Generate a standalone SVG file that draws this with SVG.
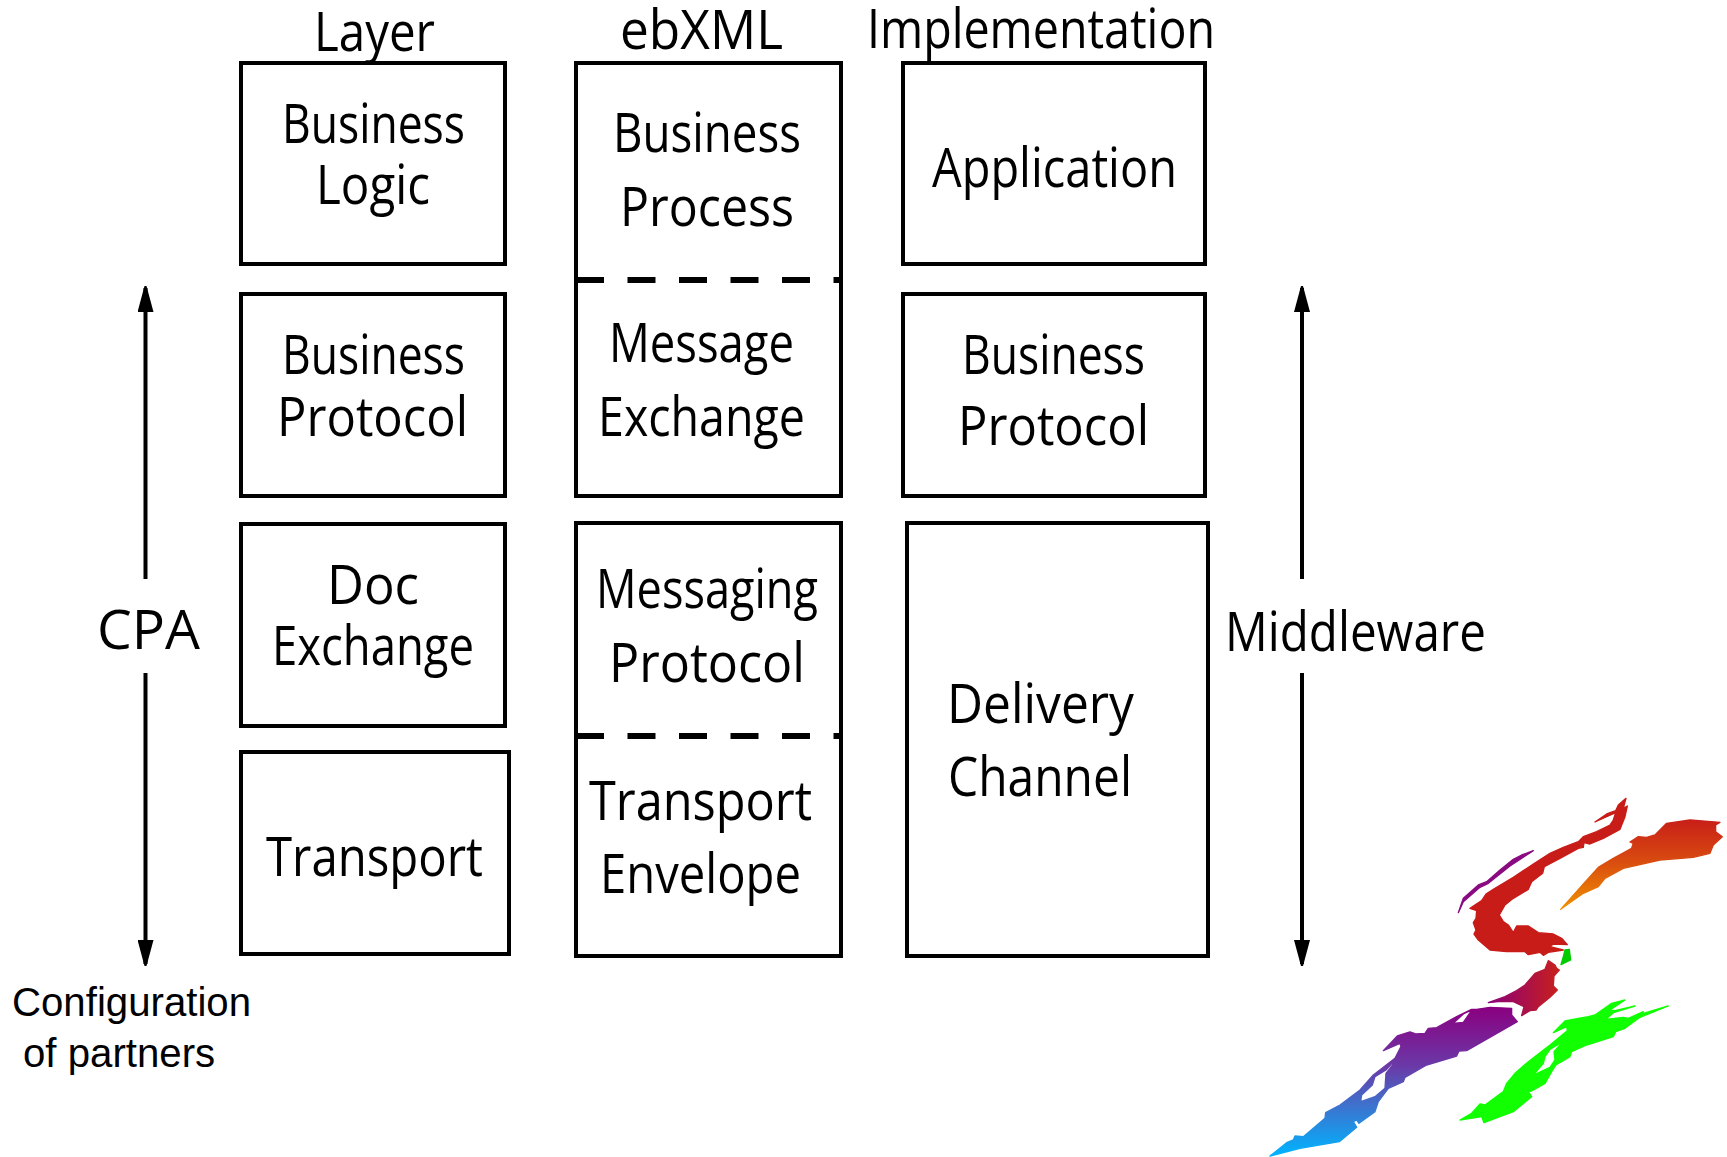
<svg xmlns="http://www.w3.org/2000/svg" width="1727" height="1157" viewBox="0 0 1727 1157">
<style>
.b{fill:#fff;stroke:#000;stroke-width:4}
.t{font-family:"Open Sans","Liberation Sans",sans-serif;font-size:54px;fill:#000}
.s{font-family:"Liberation Sans",Arial,sans-serif;font-size:40.200px;fill:#000}
.d{stroke:#000;stroke-width:6;stroke-dasharray:28 23.5;fill:none}
.a{stroke:#000;stroke-width:4;fill:none}
</style>
<defs>
<marker id="ah" markerUnits="userSpaceOnUse" markerWidth="28" markerHeight="16" refX="24" refY="8" orient="auto"><path d="M0,0L26,7L26,9L0,16Z" fill="#000"/></marker>
<linearGradient id="gO" x1="0" y1="0" x2="0" y2="1"><stop offset="0" stop-color="#c81f18"/><stop offset=".45" stop-color="#d84a10"/><stop offset="1" stop-color="#f09000"/></linearGradient>
<linearGradient id="gP" x1="0" y1="0" x2="0" y2="1"><stop offset="0" stop-color="#8a0080"/><stop offset=".4" stop-color="#6a3aa8"/><stop offset=".65" stop-color="#3f70cc"/><stop offset="1" stop-color="#00b4ff"/></linearGradient>
<linearGradient id="gM" x1="0" y1="0" x2="1" y2="0"><stop offset="0" stop-color="#8a0078"/><stop offset="1" stop-color="#c8201c"/></linearGradient>
</defs>
<g id="headers">
<text class="t" x="314" y="51" textLength="121" lengthAdjust="spacingAndGlyphs">Layer</text>
<text class="t" x="620" y="49" textLength="163" lengthAdjust="spacingAndGlyphs">ebXML</text>
<text class="t" x="867" y="48" textLength="348" lengthAdjust="spacingAndGlyphs">Implementation</text>
</g>
<g id="business-logic"><rect class="b" x="241" y="63" width="264" height="201"/>
<text class="t" x="282" y="143" textLength="183" lengthAdjust="spacingAndGlyphs">Business</text>
<text class="t" x="316" y="204" textLength="114" lengthAdjust="spacingAndGlyphs">Logic</text></g>
<g id="business-protocol"><rect class="b" x="241" y="294" width="264" height="202"/>
<text class="t" x="282" y="374" textLength="183" lengthAdjust="spacingAndGlyphs">Business</text>
<text class="t" x="277" y="436" textLength="191" lengthAdjust="spacingAndGlyphs">Protocol</text></g>
<g id="doc-exchange"><rect class="b" x="241" y="524" width="264" height="202"/>
<text class="t" x="327" y="604" textLength="92" lengthAdjust="spacingAndGlyphs">Doc</text>
<text class="t" x="272" y="665" textLength="202" lengthAdjust="spacingAndGlyphs">Exchange</text></g>
<g id="transport"><rect class="b" x="241" y="752" width="268" height="202"/>
<text class="t" x="266" y="876" textLength="217" lengthAdjust="spacingAndGlyphs">Transport</text></g>
<g id="ebxml-top"><rect class="b" x="576" y="63" width="265" height="433"/>
<path class="d" d="M576,280H841"/>
<text class="t" x="613" y="152" textLength="188" lengthAdjust="spacingAndGlyphs">Business</text>
<text class="t" x="620" y="226" textLength="174" lengthAdjust="spacingAndGlyphs">Process</text>
<text class="t" x="609" y="362" textLength="185" lengthAdjust="spacingAndGlyphs">Message</text>
<text class="t" x="598" y="436" textLength="207" lengthAdjust="spacingAndGlyphs">Exchange</text></g>
<g id="ebxml-bottom"><rect class="b" x="576" y="523" width="265" height="433"/>
<path class="d" d="M576,736H841"/>
<text class="t" x="596" y="608" textLength="222" lengthAdjust="spacingAndGlyphs">Messaging</text>
<text class="t" x="609" y="682" textLength="196" lengthAdjust="spacingAndGlyphs">Protocol</text>
<text class="t" x="589" y="820" textLength="223" lengthAdjust="spacingAndGlyphs">Transport</text>
<text class="t" x="600" y="893" textLength="201" lengthAdjust="spacingAndGlyphs">Envelope</text></g>
<g id="application"><rect class="b" x="903" y="63" width="302" height="201"/>
<text class="t" x="932" y="187" textLength="245" lengthAdjust="spacingAndGlyphs">Application</text></g>
<g id="impl-business-protocol"><rect class="b" x="903" y="294" width="302" height="202"/>
<text class="t" x="962" y="374" textLength="183" lengthAdjust="spacingAndGlyphs">Business</text>
<text class="t" x="958" y="445" textLength="191" lengthAdjust="spacingAndGlyphs">Protocol</text></g>
<g id="delivery-channel"><rect class="b" x="907" y="523" width="301" height="433"/>
<text class="t" x="947" y="723" textLength="187" lengthAdjust="spacingAndGlyphs">Delivery</text>
<text class="t" x="948" y="796" textLength="184" lengthAdjust="spacingAndGlyphs">Channel</text></g>
<g id="cpa-label"><text class="t" x="97" y="649" textLength="103" lengthAdjust="spacingAndGlyphs">CPA</text></g>
<g id="middleware-label"><text class="t" x="1225" y="651" textLength="261" lengthAdjust="spacingAndGlyphs">Middleware</text></g>
<g id="config-label"><text class="s" x="12" y="1016">Configuration</text><text class="s" x="23" y="1067">of partners</text></g>
<g id="connectors">
<path class="a" d="M145.500,579V288" marker-end="url(#ah)"/>
<path class="a" d="M145.500,673V964" marker-end="url(#ah)"/>
<path class="a" d="M1302,579V288" marker-end="url(#ah)"/>
<path class="a" d="M1302,673V964" marker-end="url(#ah)"/>
</g>
<g id="logo" stroke-width="4" stroke-linejoin="round">
<g transform="translate(1450 790) scale(.3333)">
<path fill="#c81c18" stroke="#c81c18" d="M528,25L505,45L497,62L470,72L435,96L470,80L497,68L490,90L480,105L440,125L400,140L385,155L340,172L300,190L250,222L190,262L130,298L108,312L95,332L60,355L80,362L78,385L70,398L78,420L72,432L85,450L120,480L170,485L225,485L235,494L270,487L280,496L295,487L340,480L300,470L310,462L352,464L335,445L310,432L265,428L235,408L200,408L190,428L175,405L160,395L148,375L165,345L190,325L235,298L245,275L278,250L283,230L330,205L385,175L400,172L402,158L420,162L460,145L510,118L525,80L532,48L520,55Z"/>
<path fill="#8a0a80" stroke="#8a0a80" d="M250,182L215,195L190,208L150,240L110,275L85,285L40,325L25,368L40,335L90,292L115,280L180,228Z"/>
<path fill="#0c0" stroke="#0c0" d="M345,480L358,478L362,510L345,518L333,524L340,500Z"/>
</g>
<g transform="translate(1250 780) scale(.3333)">
<path fill="url(#gO)" stroke="url(#gO)" d="M1410,127L1320,120L1250,130L1215,165L1190,172L1165,170L1140,186L1150,190L1145,205L1090,235L1045,262L1015,295L932,388L1000,340L1045,320L1065,295L1120,265L1230,240L1330,232L1380,220L1390,195L1417,170L1397,155L1397,135Z"/>
</g>
<g transform="translate(1260 990) scale(.3333)">
<path fill="url(#gP)" stroke="url(#gP)" fill-rule="evenodd" d="M755,55L690,52L650,58L635,58L590,80L530,113L505,115L495,130L467,132L450,126L412,138L370,182L420,160L423,170L405,205L340,255L300,300L240,345L197,368L195,385L130,440L105,438L100,450L80,458L30,498L120,475L238,455L290,412L280,395L290,390L297,400L345,365L355,335L385,295L430,275L435,262L500,225L590,198L597,183L620,182L772,95L755,75ZM636,60L610,72L580,100L610,97ZM405,210L378,240L345,260L337,285L305,315L302,335L345,320L375,295L378,250L398,225Z"/>
</g>
<g transform="translate(1450 960) scale(.3333)">
<path fill="url(#gM)" stroke="url(#gM)" d="M295,2L315,15L320,25L328,30L312,48L310,78L322,90L300,112L265,140L258,150L240,152L215,167L222,140L190,125L145,125L115,128L165,110L200,92L225,75L255,40L285,28Z"/>
<path fill="#1f0" stroke="#1f0" fill-rule="evenodd" d="M525,120L485,130L435,165L415,170L385,175L345,183L310,218L350,200L352,212L300,255L235,305L195,340L170,370L160,395L105,435L90,432L65,460L30,480L95,470L102,488L190,455L245,410L235,395L245,393L285,370L305,335L318,315L360,290L365,275L410,255L490,230L497,215L525,205L570,172L655,138L565,165L580,155L535,175L520,172L468,178L490,158L555,138L495,152L480,150ZM338,245L300,268L285,290L280,310L250,345L300,322L315,300L312,275Z"/>
</g>
</g>
</svg>
